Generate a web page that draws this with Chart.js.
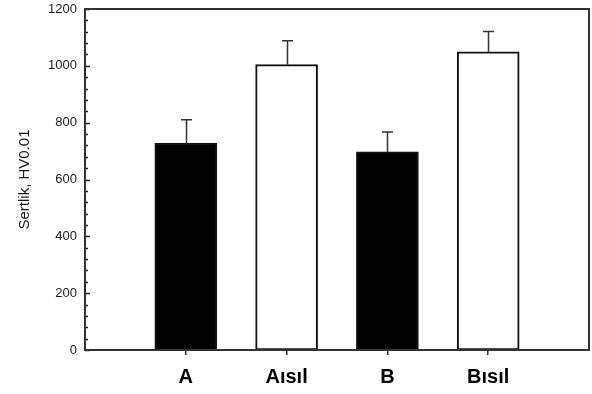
<!DOCTYPE html>
<html>
<head>
<meta charset="utf-8">
<script src="https://cdn.jsdelivr.net/npm/chart.js@4.4.1/dist/chart.umd.min.js"></script>
<style>
  html, body { margin: 0; padding: 0; background: #fff; }
  #wrap { width: 592px; height: 394px; }
</style>
</head>
<body>
<div id="wrap"><canvas id="chart"></canvas></div>
<script>
const groups = ['A', 'Aısıl', 'B', 'Bısıl']
const hardness = [727, 1004, 697, 1049]
const hardnessErr = [83, 84, 70, 72]
const barFill = ['#000', '#fff', '#000', '#fff']

// empty slots on both ends so the bars sit at 1..4 on a 0..5 axis
const labels = [''].concat(groups, [''])
const values = [null].concat(hardness, [null])
const errors = [null].concat(hardnessErr, [null])
const fills = [null].concat(barFill, [null])

const FONT = "Arial, 'Liberation Sans', sans-serif"

// box around the plot + inward minor/major ticks on y
const frame = {
  id: 'frame',
  afterDraw(chart) {
    const { ctx, chartArea: a } = chart
    const y = chart.scales.y
    ctx.save()
    ctx.strokeStyle = '#222'
    ctx.lineWidth = 1.5
    y.ticks.forEach((t, i) => {
      const py = Math.round(y.getPixelForTick(i)) + 0.5
      const len = t.value % 200 === 0 ? 5 : 3
      ctx.beginPath()
      ctx.moveTo(a.left, py)
      ctx.lineTo(a.left + len, py)
      ctx.stroke()
    })
    ctx.strokeStyle = '#333'
    ctx.lineWidth = 2
    ctx.strokeRect(a.left, a.top, a.right - a.left, a.bottom - a.top)
    ctx.restore()
  }
}

// upper error bars
const errBars = {
  id: 'errBars',
  afterDatasetsDraw(chart) {
    const { ctx } = chart
    const y = chart.scales.y
    const meta = chart.getDatasetMeta(0)
    ctx.save()
    ctx.strokeStyle = '#333'
    ctx.lineWidth = 1.5
    meta.data.forEach((bar, i) => {
      if (values[i] == null) return
      const top = y.getPixelForValue(values[i] + errors[i])
      const x = Math.round(bar.x) + 0.5
      ctx.beginPath()
      ctx.moveTo(x, bar.y)
      ctx.lineTo(x, top)
      ctx.moveTo(x - 5.5, top)
      ctx.lineTo(x + 5.5, top)
      ctx.stroke()
    })
    ctx.restore()
  }
}

const data = {
  labels: labels,
  datasets: [{
    data: values,
    backgroundColor: fills,
    borderColor: '#111',
    borderWidth: 2,
    borderSkipped: false,
    barThickness: 62
  }]
}

const config = {
  type: 'bar',
  data: data,
  options: {
    responsive: true,
    maintainAspectRatio: false,
    animation: false,
    layout: { padding: { left: 0, right: 3, top: 9, bottom: 0 } },
    plugins: {
      legend: { display: false },
      tooltip: { enabled: false }
    },
    scales: {
      x: {
        offset: false,
        border: { display: false },
        grid: {
          offset: false,
          drawOnChartArea: false,
          drawTicks: true,
          tickLength: 5,
          lineWidth: 1.5,
          tickColor: ctx => (ctx.index === 0 || ctx.index === labels.length - 1) ? 'rgba(0,0,0,0)' : '#333'
        },
        ticks: {
          color: '#000',
          padding: 10,
          maxRotation: 0,
          autoSkip: false,
          font: { family: FONT, size: 20, weight: 'bold' }
        },
        afterFit: s => {
          s.height = 44
          s.paddingLeft = 0
          s.paddingRight = 0
        }
      },
      y: {
        min: 0,
        max: 1200,
        border: { display: false },
        grid: { display: false, drawTicks: false },
        ticks: {
          stepSize: 40,
          autoSkip: false,
          padding: 8,
          color: '#1a1a1a',
          font: { family: FONT, size: 13 },
          callback: v => v % 200 === 0 ? v : ''
        },
        title: {
          display: true,
          text: 'Sertlik, HV0.01',
          color: '#1a1a1a',
          font: { family: FONT, size: 15 },
          padding: { top: 16, bottom: 0 }
        },
        afterFit: s => {
          s.width = 85
          s.paddingTop = 0
          s.paddingBottom = 0
        }
      }
    }
  },
  plugins: [errBars, frame]
}

new Chart(document.getElementById('chart'), config)
</script>
</body>
</html>
